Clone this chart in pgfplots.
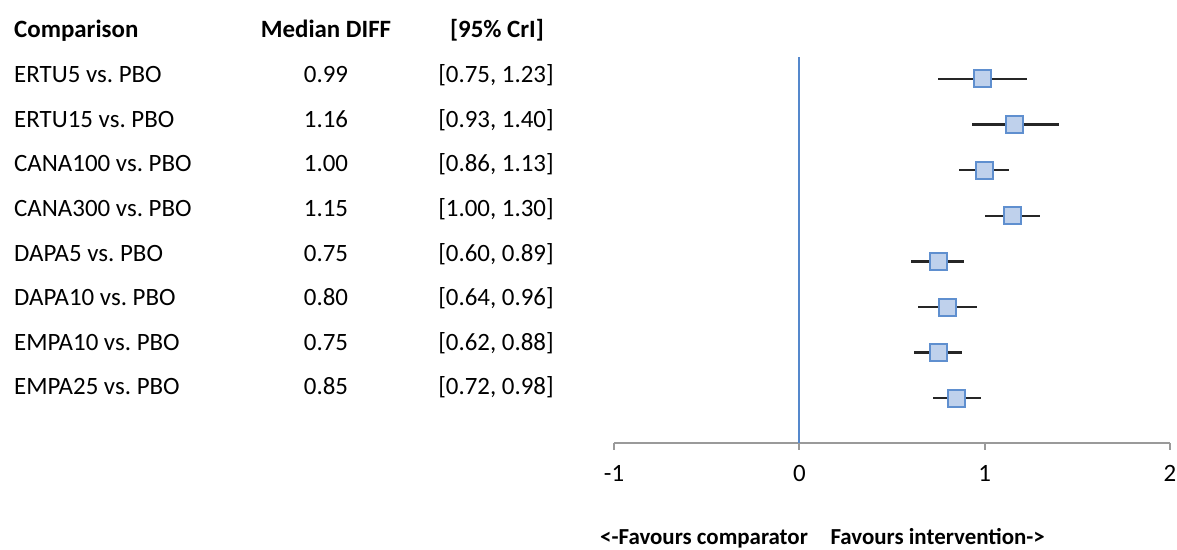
\documentclass[border=0pt]{standalone}
\usepackage{pgfplots}
\pgfplotsset{compat=1.18}
\usepackage{pgfplotstable}
\usepackage{fontspec}
\setmainfont{Carlito}
\frenchspacing
\definecolor{mkfill}{HTML}{BFD1EC}
\definecolor{mkedge}{HTML}{5F8FCF}
\definecolor{vline}{HTML}{5588CC}
\definecolor{axgray}{HTML}{9A9A9A}
\newcommand\tf{\fontsize{25}{30}\selectfont}
\pgfplotstableread{
y med lo hi ep em
8 0.99 0.75 1.23 0.24 0.24
7 1.16 0.93 1.40 0.24 0.23
6 1.00 0.86 1.13 0.13 0.14
5 1.15 1.00 1.30 0.15 0.15
4 0.75 0.60 0.89 0.14 0.15
3 0.80 0.64 0.96 0.16 0.16
2 0.75 0.62 0.88 0.13 0.13
1 0.85 0.72 0.98 0.13 0.13
}\forest
\begin{document}
\begin{tikzpicture}
\useasboundingbox (0bp,0bp) rectangle (1177bp,550bp);
\begin{axis}[
  at={(614bp,107bp)}, anchor=south west,
  scale only axis, width=556bp, height=386bp,
  xmin=-1, xmax=2, ymin=0.02, ymax=8.48,
  axis x line=bottom, axis y line=none,
  axis line style={draw=axgray, line width=1.8bp, -},
  xtick={-1,0,1,2}, xticklabels={-1,0,1,2},
  tick align=outside, major tick length=7bp,
  tick style={draw=axgray, line width=1.8bp},
  xticklabel style={font=\tf, text=black, yshift=-12bp},
  clip=false,
]
\addplot[draw=vline, line width=2bp] coordinates {(0,0.02) (0,8.48)};
\addplot[only marks, mark=square*, mark size=8.5bp,
  mark options={fill=mkfill, draw=mkedge, line width=2bp},
  error bars/.cd, x dir=both, x explicit, error mark=none,
  error bar style={line width=2.4bp, draw=black!85}]
  table[x=med, y=y, x error plus=ep, x error minus=em]{\forest};
\end{axis}
\begin{scope}[x=1bp,y=1bp]
\node[anchor=base west, font=\tf\bfseries, inner sep=0] at (14,512) {Comparison};
\node[anchor=base, font=\tf\bfseries, inner sep=0] at (326,512) {Median DIFF};
\node[anchor=base, font=\tf\bfseries, inner sep=0] at (497,512) {[95\% CrI]};
\foreach \n/\m/\c [count=\i from 0] in {ERTU5 vs. PBO/0.99/{[0.75, 1.23]},
  ERTU15 vs. PBO/1.16/{[0.93, 1.40]},
  CANA100 vs. PBO/1.00/{[0.86, 1.13]},
  CANA300 vs. PBO/1.15/{[1.00, 1.30]},
  DAPA5 vs. PBO/0.75/{[0.60, 0.89]},
  DAPA10 vs. PBO/0.80/{[0.64, 0.96]},
  EMPA10 vs. PBO/0.75/{[0.62, 0.88]},
  EMPA25 vs. PBO/0.85/{[0.72, 0.98]}}{
  \pgfmathsetmacro\yy{550-82.7-44.6*\i}
  \node[anchor=base west, font=\tf, inner sep=0] at (14,\yy) {\n};
  \node[anchor=base, font=\tf, inner sep=0] at (326,\yy) {\m};
  \node[anchor=base, font=\tf, inner sep=0] at (496,\yy) {\c};
}
\node[anchor=base west, font=\fontsize{23}{27}\selectfont\bfseries, inner sep=0] at (600,6) {<-Favours comparator};
\node[anchor=base east, font=\fontsize{23}{27}\selectfont\bfseries, inner sep=0] at (1045,6) {Favours intervention->};
\end{scope}
\end{tikzpicture}
\end{document}
